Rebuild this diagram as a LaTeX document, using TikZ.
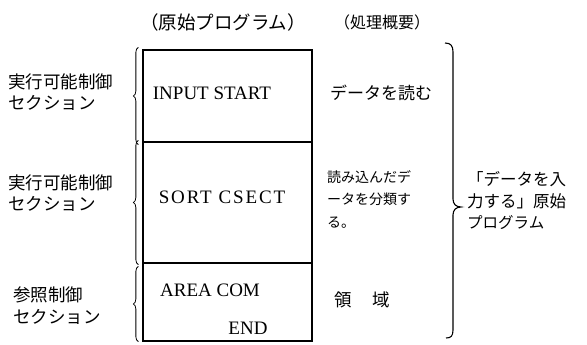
\documentclass[tikz,border=0pt]{standalone}
\usepackage{fontspec}
\setmainfont{Liberation Serif}
\newfontfamily\jp{Noto Sans CJK JP}
\usetikzlibrary{decorations.pathreplacing}
\tikzset{
  secbox/.style={draw, line width=1.3pt, minimum width=169pt, inner sep=0pt, rectangle},
  code/.style={font=\fontsize{19}{22}\selectfont, inner sep=0pt},
  jlabel/.style={font=\jp\fontsize{17.5}{20.5}\selectfont, align=left, anchor=west, inner sep=0pt},
  jtext/.style={font=\jp\fontsize{17}{20}\selectfont, inner sep=0pt},
  lbrace/.style={decorate, decoration={brace, amplitude=5pt}, line width=0.8pt},
}
\begin{document}
\begin{tikzpicture}[x=1pt,y=-1pt]
\useasboundingbox (0,0) rectangle (587,345);
% headers
\node[jtext, font=\jp\fontsize{18.5}{20}\selectfont] (h1) at (223,22) {（原始プログラム）};
\node[jtext, font=\jp\fontsize{16}{20}\selectfont] (h2) at (382,22) {（処理概要）};
% boxes
\node[secbox, minimum height=92pt] (sec1) at (227.5,96) {};
\node[secbox, minimum height=121pt] (sec2) at (227.5,202.5) {};
\node[secbox, minimum height=78pt] (sec3) at (227.5,302) {};
% code text
\node[code] (c1) at (212,93) {INPUT START};
\node[code] (c2) at (222,197) {\addfontfeature{LetterSpace=10}SORT CSECT};
\node[code] (c3) at (210,290) {AREA COM};
\node[code] (c4) at (248,328) {END};
% left labels
\node[jlabel] (l1) at (8,92) {実行可能制御\\セクション};
\node[jlabel] (l2) at (8,193) {実行可能制御\\セクション};
\node[jlabel, font=\jp\fontsize{17.5}{22}\selectfont] (l3) at (13,306) {参照制御\\セクション};
% left braces
\draw[lbrace] ([xshift=-4pt,yshift=-2pt]sec1.south west) -- ([xshift=-4pt,yshift=2pt]sec1.north west);
\draw[lbrace] ([xshift=-4pt,yshift=-1pt]sec2.south west) -- ([xshift=-4pt,yshift=1pt]sec2.north west);
\draw[lbrace] ([xshift=-4pt]sec3.south west) -- ([xshift=-4pt,yshift=-4pt]sec3.north west);
% right descriptions
\node[jtext] (d1) at (381,93) {データを読む};
\node[jlabel, font=\jp\fontsize{14}{22.5}\selectfont] (d2) at (327,199) {読み込んだデ\\ータを分類す\\る。};
\node[jtext, font=\jp\fontsize{17.5}{20}\selectfont] (d3) at (362,300) {領\hspace{1.2em}域};
% right brace
\draw[line width=1.1pt] (445,43) .. controls (451,43) and (453,46) .. (453,52) -- (453,199)
  .. controls (453,204) and (456,207) .. (461,207)
  .. controls (456,207) and (453,210) .. (453,215) -- (453,330)
  .. controls (453,336) and (451,338) .. (446,338);
% right label
\node[jlabel, font=\jp\fontsize{16.5}{21.5}\selectfont] (r1) at (467,201) {「データを入\\力する」原始\\{\fontsize{15.5}{21.5}\selectfont プログラム}};
\end{tikzpicture}
\end{document}
